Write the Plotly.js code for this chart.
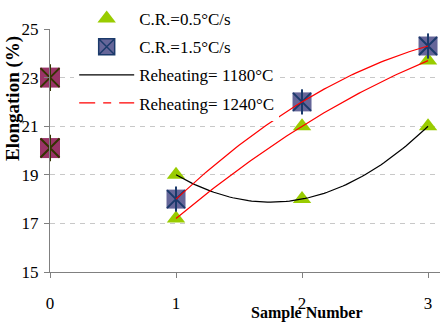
<!DOCTYPE html>
<html><head><meta charset="utf-8">
<script src="https://cdn.plot.ly/plotly-3.0.1.min.js"></script>
<style>html,body{margin:0;padding:0;background:#fff}#chart{width:440px;height:325px}</style>
</head><body><div id="chart"></div>
<script>
// ---- data ----
const sampleNumber = [1, 2, 3];
const cr05_reheat1180 = [19, 18, 21];      // green triangles, black trendline
const cr05_reheat1240 = [17.2, 21, 23.7];  // green triangles, red trendline
const cr15_reheat1240 = [18, 22, 24.3];    // blue squares, red trendline
const sampleZero = [0, 0];
const sampleZeroValues = [23, 20.1];       // maroon squares at sample 0
const xTickVals = [0, 1, 2, 3];
const xTickText = ['0', '1', '2', '3'];
const yTickVals = [15, 17, 19, 21, 23, 25];
const yTickText = ['15', '17', '19', '21', '23', '25'];
const seriesNames = ['C.R.=0.5°C/s', 'C.R.=1.5°C/s', 'Reheating= 1180°C', 'Reheating= 1240°C'];
const xTitle = 'Sample Number';
const yTitle = 'Elongation (%)';

// order-2 polynomial trendline (as in the original spreadsheet chart)
function poly2Trend(xs, ys, steps) {
  const [x0, x1, x2] = xs, [y0, y1, y2] = ys;
  const out = {x: [], y: []};
  for (let i = 0; i <= steps; i++) {
    const x = x0 + (x2 - x0) * i / steps;
    const y = y0 * (x - x1) * (x - x2) / ((x0 - x1) * (x0 - x2)) +
              y1 * (x - x0) * (x - x2) / ((x1 - x0) * (x1 - x2)) +
              y2 * (x - x0) * (x - x1) / ((x2 - x0) * (x2 - x1));
    out.x.push(x); out.y.push(y);
  }
  return out;
}

const SERIF = '"Liberation Serif", "Times New Roman", "DejaVu Serif", serif';
const t1180 = poly2Trend(sampleNumber, cr05_reheat1180, 80);
const t1240a = poly2Trend(sampleNumber, cr05_reheat1240, 80);
const t1240b = poly2Trend(sampleNumber, cr15_reheat1240, 80);

const traces = [
  // sample 0 maroon squares with asterisk
  {x: sampleZero, y: sampleZeroValues, mode: 'markers', showlegend: false, cliponaxis: false,
   marker: {symbol: 'square', size: 20, color: '#993366', line: {width: 0}}},
  {x: sampleZero, y: sampleZeroValues, mode: 'markers', showlegend: false, cliponaxis: false,
   marker: {symbol: 'x-thin-open', size: 19, color: '#333300', line: {width: 2, color: '#333300'}}},
  {x: sampleZero, y: sampleZeroValues, mode: 'markers', showlegend: false, cliponaxis: false,
   marker: {symbol: 'line-ns-open', size: 19, color: '#333300', line: {width: 2, color: '#333300'}}},
  // green triangles
  {x: sampleNumber.concat(sampleNumber), y: cr05_reheat1180.concat(cr05_reheat1240), mode: 'markers',
   name: seriesNames[0], legendgroup: 'a', cliponaxis: false,
   marker: {symbol: 'triangle-up', size: 16, color: '#99CC00', line: {width: 0}}},
  // blue squares with asterisk
  {x: sampleNumber, y: cr15_reheat1240, mode: 'markers', showlegend: false, cliponaxis: false,
   marker: {symbol: 'square', size: 19, color: '#666699', line: {width: 0}}},
  {x: sampleNumber, y: cr15_reheat1240, mode: 'markers', showlegend: false, cliponaxis: false,
   marker: {symbol: 'x-thin-open', size: 18, color: '#1b3a6b', line: {width: 2, color: '#1b3a6b'}}},
  {x: sampleNumber, y: cr15_reheat1240, mode: 'markers', showlegend: false, cliponaxis: false,
   marker: {symbol: 'line-ns-open', size: 18, color: '#1b3a6b', line: {width: 2, color: '#1b3a6b'}}},
  {x: [null], y: [null], mode: 'markers', name: seriesNames[1], legendgroup: 'b',
   marker: {symbol: 'square-x', size: 16, color: '#666699', line: {width: 1.5, color: '#1b3a6b'}}},
  // trendlines
  {x: t1180.x, y: t1180.y, mode: 'lines', name: seriesNames[2], legendgroup: 'c',
   line: {color: '#000000', width: 1.2}},
  {x: t1240a.x, y: t1240a.y, mode: 'lines', showlegend: false,
   line: {color: '#ff0000', width: 1.2}},
  {x: t1240b.x, y: t1240b.y, mode: 'lines', showlegend: false,
   line: {color: '#ff0000', width: 1.2}},
  {x: [null], y: [null], mode: 'lines', name: seriesNames[3], legendgroup: 'd',
   line: {color: '#ff0000', width: 1.2, dash: '16px,8px,8px,8px'}}
];

const layout = {
  width: 440, height: 325,
  margin: {l: 50, r: 0, t: 29, b: 53},
  paper_bgcolor: '#ffffff', plot_bgcolor: '#ffffff',
  font: {family: SERIF, size: 16, color: '#000000'},
  showlegend: true,
  legend: {x: 0.062, xanchor: 'left', y: 1.115, yanchor: 'top', bgcolor: '#ffffff',
           font: {family: SERIF, size: 17, color: '#000000'}, itemwidth: 55,
           traceorder: 'grouped', tracegroupgap: 3},
  xaxis: {range: [0, 3.095], tickmode: 'array', tickvals: xTickVals, ticktext: xTickText,
          ticks: 'outside', ticklen: 5, tickcolor: '#808080', showline: true, linecolor: '#808080',
          linewidth: 1, showgrid: false, zeroline: false, ticklabelstandoff: 11,
          tickfont: {family: SERIF, size: 17, color: '#000000'}},
  yaxis: {range: [15, 25], tickmode: 'array', tickvals: yTickVals, ticktext: yTickText,
          ticks: 'outside', ticklen: 5, tickcolor: '#808080', showline: true, linecolor: '#808080',
          linewidth: 1, showgrid: true, gridcolor: '#c8c8c8', griddash: '5px,5px', zeroline: false,
          ticklabelstandoff: 2, tickfont: {family: SERIF, size: 17, color: '#000000'}},
  annotations: [
    {text: '<b>' + yTitle + '</b>', xref: 'paper', yref: 'paper', x: -0.093, y: 0.715,
     xanchor: 'center', yanchor: 'middle', textangle: -90, showarrow: false,
     font: {family: SERIF, size: 19, color: '#000000'}},
    {text: '<b>' + xTitle + '</b>', xref: 'paper', yref: 'paper', x: 0.659, y: -0.168,
     xanchor: 'center', yanchor: 'middle', showarrow: false,
     font: {family: SERIF, size: 16, color: '#000000'}}
  ]
};

Plotly.newPlot('chart', traces, layout, {displayModeBar: false, staticPlot: true});
</script></body></html>
